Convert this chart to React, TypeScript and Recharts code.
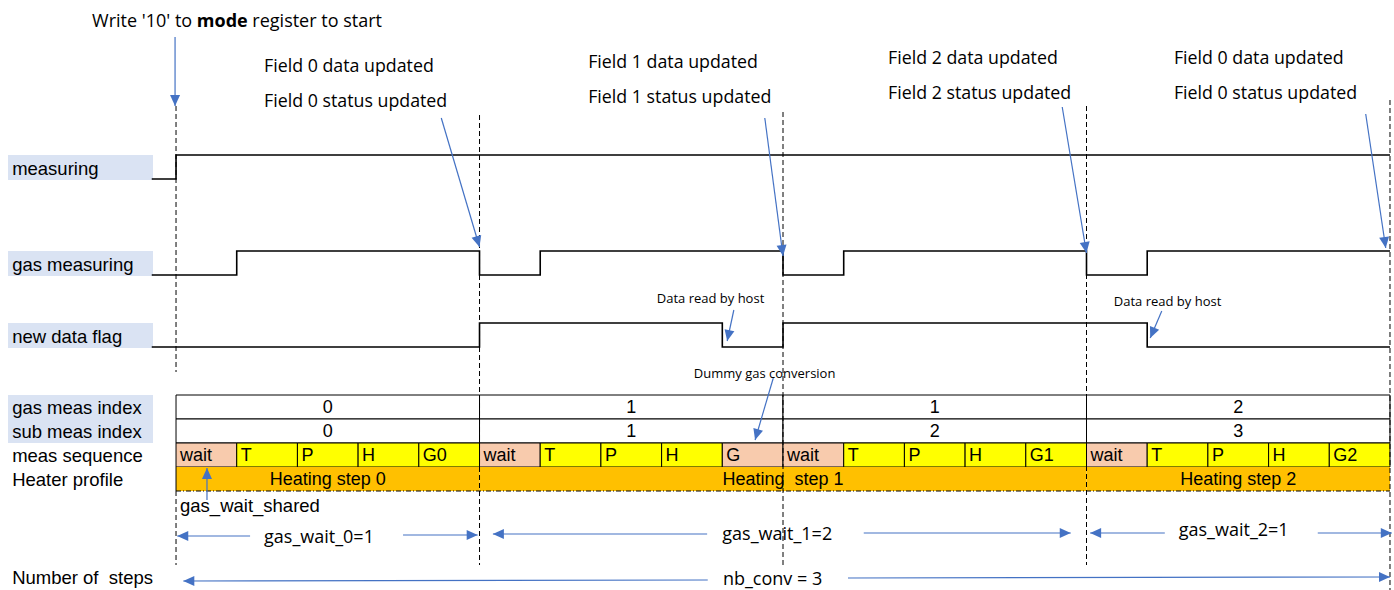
import { ComposedChart, Line, XAxis, YAxis, ReferenceArea, ReferenceLine, ReferenceDot } from "recharts";

const W = 1394;
const H = 590;
// x is measured in measurement slots (wait/T/P/H/G), 5 slots per cycle
const X_MIN = -2.9;
const X_MAX = 20.066;

const CYCLE_EDGES = [0, 5, 10, 15, 20];

const MEASURING_T = [-0.4, 0, 20];
const MEASURING_V = [0, 1, 1];
const GAS_MEAS_T = [-0.4, 1, 5, 6, 10, 11, 15, 16, 20];
const GAS_MEAS_V = [0, 1, 0, 1, 0, 1, 0, 1, 1];
const NEW_DATA_T = [-0.4, 5, 9, 10, 16, 20];
const NEW_DATA_V = [0, 1, 0, 1, 0, 0];

const GAS_MEAS_INDEX = ["0", "1", "1", "2"];
const SUB_MEAS_INDEX = ["0", "1", "2", "3"];
const MEAS_SEQUENCE = [
  "wait", "T", "P", "H", "G0",
  "wait", "T", "P", "H", "G",
  "wait", "T", "P", "H", "G1",
  "wait", "T", "P", "H", "G2",
];
const HEATER_LABELS = ["Heating step 0", "Heating  step 1", "Heating step 2"];
const HEATER_EDGES = [0, 5, 15, 20];

const SIGNAL_LABELS = ["measuring", "gas measuring", "new data flag"];
const TABLE_LABELS = ["gas meas index", "sub meas index", "meas sequence", "Heater profile"];

// layout (pixel rows of the y scale)
const LANES = [
  { low: 179, high: 155 },
  { low: 275, high: 251 },
  { low: 347, high: 323 },
];
const ROWS = [395, 419, 443, 467, 491];
const LABEL_X = -2.7;
const BOX_X = [-2.768, -0.379];

const BLUE = "#4472C4";
const LABEL_BG = "#DAE3F3";
const YELLOW = "#FFFF00";
const PEACH = "#F8CBAD";
const ORANGE = "#FFC000";
const ARIAL = "'Liberation Sans', Arial, sans-serif";
const CALIBRI = "'Open Sans', 'Noto Sans', sans-serif";

// svg collapses runs of spaces, keep them visible
const keepSpaces = (s: string) => s.replace(/ {2}/g, "\u00a0 ");

const toSeries = (ts: number[], vs: number[], lane: { low: number; high: number }) =>
  ts.map((t, i) => ({ t, y: lane.low - vs[i] * (lane.low - lane.high) }));

const head = (x1: number, y1: number, x2: number, y2: number) => {
  const a = Math.atan2(y2 - y1, x2 - x1);
  const len = 11;
  const half = 5;
  const bx = x2 - len * Math.cos(a);
  const by = y2 - len * Math.sin(a);
  const px = -Math.sin(a) * half;
  const py = Math.cos(a) * half;
  return `${x2},${y2} ${bx + px},${by + py} ${bx - px},${by - py}`;
};

const arrowShape = (p: any) => (
  <g>
    <line x1={p.x1} y1={p.y1} x2={p.x2} y2={p.y2} stroke={BLUE} strokeWidth={1.2} />
    <polygon points={head(p.x1, p.y1, p.x2, p.y2)} fill={BLUE} />
  </g>
);

type Note = { t: number; y: number; text: string; size: number; font: string };

const NOTES: Note[] = [
  { t: 1.45, y: 65, text: "Field 0 data updated", size: 17.8, font: CALIBRI },
  { t: 1.45, y: 100, text: "Field 0 status updated", size: 17.8, font: CALIBRI },
  { t: 6.79, y: 61, text: "Field 1 data updated", size: 17.8, font: CALIBRI },
  { t: 6.79, y: 96, text: "Field 1 status updated", size: 17.8, font: CALIBRI },
  { t: 11.73, y: 57, text: "Field 2 data updated", size: 17.8, font: CALIBRI },
  { t: 11.73, y: 92, text: "Field 2 status updated", size: 17.8, font: CALIBRI },
  { t: 16.44, y: 57, text: "Field 0 data updated", size: 17.8, font: CALIBRI },
  { t: 16.44, y: 92, text: "Field 0 status updated", size: 17.8, font: CALIBRI },
  { t: 7.92, y: 298, text: "Data read by host", size: 13, font: CALIBRI },
  { t: 15.45, y: 301, text: "Data read by host", size: 13, font: CALIBRI },
  { t: 8.53, y: 373, text: "Dummy gas conversion", size: 13, font: CALIBRI },
  { t: 0.066, y: 505, text: "gas_wait_shared", size: 18.5, font: ARIAL },
  { t: 1.45, y: 536, text: "gas_wait_0=1", size: 18, font: CALIBRI },
  { t: 9.0, y: 533, text: "gas_wait_1=2", size: 18, font: CALIBRI },
  { t: 16.52, y: 529, text: "gas_wait_2=1", size: 18, font: CALIBRI },
  { t: LABEL_X, y: 577, text: "Number of  steps", size: 18.5, font: ARIAL },
  { t: 9.01, y: 578, text: "nb_conv = 3", size: 18, font: CALIBRI },
];

const ARROWS = [
  [-0.016, 37, -0.016, 106],
  [4.37, 118, 5.0, 247],
  [9.7, 118, 10.0, 256],
  [14.6, 107, 15.0, 253],
  [19.6, 114, 19.93, 248],
  [9.19, 310, 9.08, 341],
  [16.24, 311, 16.05, 338],
  [9.84, 378, 9.54, 440],
  [0.51, 500, 0.51, 468],
  [1.22, 536, 0.02, 536],
  [3.74, 535, 4.97, 535],
  [8.75, 534, 5.22, 534],
  [11.33, 533, 14.74, 533],
  [16.29, 533, 15.06, 533],
  [18.81, 533, 20.03, 533],
  [8.76, 580, 0.12, 581],
  [11.07, 578, 20.0, 577],
];

// dashed cycle markers: [t, top, bottom]
const DASHES = [
  [0, 106, 372],
  [0, 491, 565],
  [5, 115, 565],
  [10, 112, 565],
  [15, 106, 565],
  [20, 100, 590],
];

const textDot = (key: string, t: number, y: number, content: any, size: number, font: string, anchor = "start") => (
  <ReferenceDot
    key={key}
    x={t}
    y={y}
    ifOverflow="visible"
    shape={(p: any) => (
      <text x={p.cx} y={p.cy} fontSize={size} fontFamily={font} fill="#000" textAnchor={anchor} dominantBaseline="central">
        {content}
      </text>
    )}
  />
);

const cellLabel = (value: string, position: string, offset = 5) => ({
  value: keepSpaces(value),
  position,
  offset,
  fill: "#000",
  fontSize: 18,
  fontFamily: ARIAL,
});

export default function App() {
  const series = [
    toSeries(MEASURING_T, MEASURING_V, LANES[0]),
    toSeries(GAS_MEAS_T, GAS_MEAS_V, LANES[1]),
    toSeries(NEW_DATA_T, NEW_DATA_V, LANES[2]),
  ];

  return (
    <div style={{ position: "absolute", left: 0, top: 0, background: "#fff" }}>
      <ComposedChart width={W} height={H} margin={{ top: 0, right: 0, bottom: 0, left: 0 }}>
        <XAxis type="number" dataKey="t" domain={[X_MIN, X_MAX]} allowDataOverflow hide />
        <YAxis type="number" dataKey="y" domain={[0, H]} reversed allowDataOverflow hide />

        {/* label backgrounds */}
        {LANES.map((l, i) => (
          <ReferenceArea key={`bg${i}`} x1={BOX_X[0]} x2={BOX_X[1]} y1={l.high} y2={l.low + 1} fill={LABEL_BG} fillOpacity={1} stroke="none" ifOverflow="visible" />
        ))}
        <ReferenceArea x1={BOX_X[0]} x2={BOX_X[1]} y1={ROWS[0]} y2={ROWS[2]} fill={LABEL_BG} fillOpacity={1} stroke="none" ifOverflow="visible" />

        {/* index rows */}
        {GAS_MEAS_INDEX.map((v, i) => (
          <ReferenceArea key={`g${i}`} x1={CYCLE_EDGES[i]} x2={CYCLE_EDGES[i + 1]} y1={ROWS[0]} y2={ROWS[1]} fill="#fff" fillOpacity={1} stroke="#000" strokeWidth={1} ifOverflow="visible" label={cellLabel(v, "center")} />
        ))}
        {SUB_MEAS_INDEX.map((v, i) => (
          <ReferenceArea key={`s${i}`} x1={CYCLE_EDGES[i]} x2={CYCLE_EDGES[i + 1]} y1={ROWS[1]} y2={ROWS[2]} fill="#fff" fillOpacity={1} stroke="#000" strokeWidth={1} ifOverflow="visible" label={cellLabel(v, "center")} />
        ))}
        {MEAS_SEQUENCE.map((v, i) => (
          <ReferenceArea key={`m${i}`} x1={i} x2={i + 1} y1={ROWS[2]} y2={ROWS[3]} fill={v === "wait" || v === "G" ? PEACH : YELLOW} fillOpacity={1} stroke="#000" strokeWidth={1} ifOverflow="visible" label={cellLabel(v, "insideLeft", 4)} />
        ))}
        {HEATER_LABELS.map((v, i) => (
          <ReferenceArea key={`h${i}`} x1={HEATER_EDGES[i]} x2={HEATER_EDGES[i + 1]} y1={ROWS[3]} y2={ROWS[4]} fill={ORANGE} fillOpacity={1} stroke="none" ifOverflow="visible" label={cellLabel(v, "center")} />
        ))}
        <ReferenceLine segment={[{ x: 0, y: ROWS[3] }, { x: 0, y: ROWS[4] }]} stroke="#000" strokeWidth={1} ifOverflow="visible" />
        <ReferenceLine segment={[{ x: 0, y: ROWS[4] }, { x: 20, y: ROWS[4] }]} stroke="#000" strokeWidth={1} strokeDasharray="5 2 1 2" ifOverflow="visible" />

        {/* signals */}
        {series.map((d, i) => (
          <Line key={`sig${i}`} data={d} dataKey="y" type="stepAfter" stroke="#000" strokeWidth={1.6} dot={false} activeDot={false} isAnimationActive={false} />
        ))}

        {/* cycle markers */}
        {DASHES.map(([t, a, b], i) => (
          <ReferenceLine key={`d${i}`} segment={[{ x: t, y: a }, { x: t, y: b }]} stroke="#000" strokeWidth={1} strokeDasharray="5 3" ifOverflow="visible" />
        ))}

        {ARROWS.map(([a, b, c, d], i) => (
          <ReferenceLine key={`a${i}`} segment={[{ x: a, y: b }, { x: c, y: d }]} ifOverflow="visible" shape={arrowShape} />
        ))}

        {SIGNAL_LABELS.map((s, i) => textDot(`sl${i}`, LABEL_X, (LANES[i].high + LANES[i].low) / 2 + 1, s, 18.5, ARIAL))}
        {TABLE_LABELS.map((s, i) => textDot(`tl${i}`, LABEL_X, (ROWS[i] + ROWS[i + 1]) / 2, s, 18.5, ARIAL))}
        {NOTES.map((n, i) => textDot(`n${i}`, n.t, n.y, keepSpaces(n.text), n.size, n.font))}
        {textDot(
          "title",
          -1.384,
          20,
          <>
            Write '10' to <tspan fontWeight="bold">mode</tspan> register to start
          </>,
          18,
          CALIBRI
        )}
      </ComposedChart>
    </div>
  );
}
